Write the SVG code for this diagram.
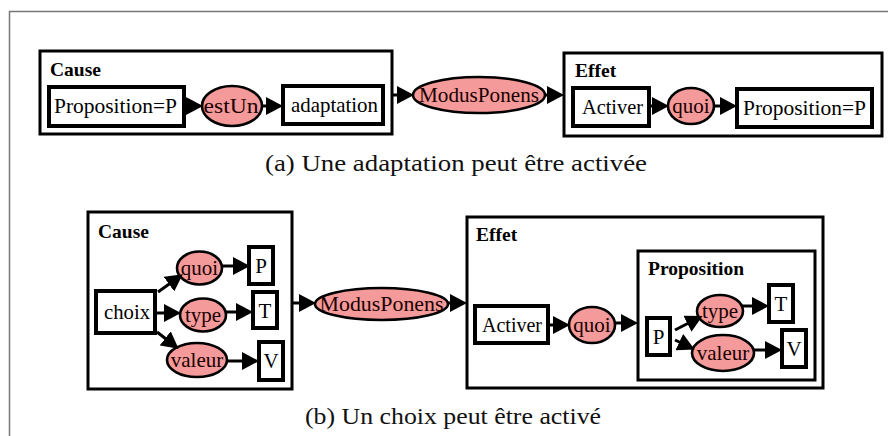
<svg xmlns="http://www.w3.org/2000/svg" width="888" height="436" viewBox="0 0 888 436">
<defs>
<marker id="ah" markerUnits="userSpaceOnUse" markerWidth="17" markerHeight="18" viewBox="0 0 17 18" refX="8" refY="9" orient="auto">
<path d="M0,0 L17,9 L0,18 z" fill="#000"/>
</marker>
<style>
.frame{fill:none;stroke:#777;stroke-width:1.5}
.cont{fill:#fff;stroke:#000;stroke-width:3}
.box{fill:#fff;stroke:#000;stroke-width:4}
.ell{fill:#f49a9a;stroke:#000;stroke-width:2.6}
.lbl{font-family:"Liberation Serif","Times New Roman",serif;font-size:21px;fill:#000}
.elbl{font-family:"Liberation Serif","Times New Roman",serif;font-size:21px;fill:#1a0000;text-anchor:middle}
.ttl{font-family:"Liberation Serif","Times New Roman",serif;font-size:19.5px;font-weight:bold;fill:#000}
.cap{font-family:"Liberation Serif","Palatino Linotype",serif;font-size:24px;fill:#111}
.arr line{stroke:#000;stroke-width:3;marker-end:url(#ah)}
</style>
</defs>
<rect width="888" height="436" fill="#fff"/>
<path class="frame" d="M9.5,436 V11.5 H888"/>

<!-- (a) -->
<g id="a-cause">
<rect class="cont" x="40" y="51" width="352" height="83"/>
<text class="ttl" x="50" y="76">Cause</text>
</g>
<g id="a-prop1"><rect class="box" x="49" y="87" width="135" height="39"/><text class="lbl" x="54" y="113" textLength="123" lengthAdjust="spacingAndGlyphs">Proposition=P</text></g>
<g id="a-estUn"><ellipse class="ell" cx="232" cy="106" rx="30" ry="20"/><text class="elbl" x="231" y="113" textLength="55" lengthAdjust="spacingAndGlyphs">estUn</text></g>
<g id="a-adapt"><rect class="box" x="283" y="86" width="100" height="38"/><text class="lbl" x="291" y="112" textLength="87" lengthAdjust="spacingAndGlyphs">adaptation</text></g>
<g id="a-modus"><ellipse class="ell" cx="479" cy="95" rx="66" ry="18"/><text class="elbl" x="479" y="102" textLength="120" lengthAdjust="spacingAndGlyphs">ModusPonens</text></g>
<g id="a-effet">
<rect class="cont" x="564" y="53" width="318" height="83"/>
<text class="ttl" x="575" y="77">Effet</text>
</g>
<g id="a-activer"><rect class="box" x="573" y="88" width="76" height="38"/><text class="lbl" x="582" y="114" textLength="61" lengthAdjust="spacingAndGlyphs">Activer</text></g>
<g id="a-quoi"><ellipse class="ell" cx="691" cy="106" rx="23" ry="18"/><text class="elbl" x="691" y="113">quoi</text></g>
<g id="a-prop2"><rect class="box" x="737" y="89" width="135" height="38"/><text class="lbl" x="743" y="115" textLength="123" lengthAdjust="spacingAndGlyphs">Proposition=P</text></g>
<text class="cap" x="265" y="171" textLength="382" lengthAdjust="spacingAndGlyphs">(a) Une adaptation peut être activée</text>

<!-- (b) -->
<g id="b-cause">
<rect class="cont" x="88" y="212" width="204" height="177"/>
<text class="ttl" x="98" y="238">Cause</text>
</g>
<g id="b-choix"><rect class="box" x="96" y="291" width="59" height="42"/><text class="lbl" x="104" y="319" textLength="46" lengthAdjust="spacingAndGlyphs">choix</text></g>
<g id="b-quoi"><ellipse class="ell" cx="199.5" cy="268" rx="22.5" ry="16.5"/><text class="elbl" x="199.5" y="275">quoi</text></g>
<g id="b-type"><ellipse class="ell" cx="203" cy="315" rx="23" ry="16.5"/><text class="elbl" x="203" y="322">type</text></g>
<g id="b-valeur"><ellipse class="ell" cx="197" cy="360" rx="30" ry="17"/><text class="elbl" x="197" y="367">valeur</text></g>
<g id="b-P"><rect class="box" x="249" y="247" width="24" height="37"/><text class="lbl" x="261" y="273" text-anchor="middle">P</text></g>
<g id="b-T"><rect class="box" x="253" y="292" width="24" height="36"/><text class="lbl" x="265" y="318" text-anchor="middle">T</text></g>
<g id="b-V"><rect class="box" x="259" y="342" width="24" height="38"/><text class="lbl" x="271" y="368" text-anchor="middle">V</text></g>
<g id="b-modus"><ellipse class="ell" cx="381.5" cy="304" rx="66.5" ry="16"/><text class="elbl" x="381.5" y="311" textLength="124" lengthAdjust="spacingAndGlyphs">ModusPonens</text></g>
<g id="b-effet">
<rect class="cont" x="467" y="217" width="356" height="171"/>
<text class="ttl" x="476" y="241">Effet</text>
</g>
<g id="b-activer"><rect class="box" x="475" y="306" width="73" height="37"/><text class="lbl" x="482" y="332" textLength="60" lengthAdjust="spacingAndGlyphs">Activer</text></g>
<g id="b-quoi2"><ellipse class="ell" cx="592" cy="325" rx="23" ry="18"/><text class="elbl" x="592" y="332">quoi</text></g>
<g id="b-prop">
<rect class="cont" x="638" y="251" width="177" height="129"/>
<text class="ttl" x="648" y="275">Proposition</text>
</g>
<g id="b-P2"><rect class="box" x="647" y="318" width="23" height="37"/><text class="lbl" x="658.5" y="344" text-anchor="middle">P</text></g>
<g id="b-type2"><ellipse class="ell" cx="720" cy="311" rx="23" ry="16"/><text class="elbl" x="720" y="318">type</text></g>
<g id="b-valeur2"><ellipse class="ell" cx="723" cy="353" rx="31" ry="18"/><text class="elbl" x="723" y="360">valeur</text></g>
<g id="b-T2"><rect class="box" x="769" y="285" width="24" height="37"/><text class="lbl" x="781" y="311" text-anchor="middle">T</text></g>
<g id="b-V2"><rect class="box" x="782" y="330" width="24" height="37"/><text class="lbl" x="794" y="356" text-anchor="middle">V</text></g>
<text class="cap" x="305" y="424" textLength="296" lengthAdjust="spacingAndGlyphs">(b) Un choix peut être activé</text>

<g id="connectors" class="arr">
<line x1="184" y1="106" x2="194" y2="106"/>
<line x1="262" y1="106" x2="274" y2="106"/>
<line x1="393" y1="95" x2="405" y2="95"/>
<line x1="545" y1="95" x2="555" y2="95"/>
<line x1="650" y1="106" x2="660" y2="106"/>
<line x1="714" y1="106" x2="728" y2="106"/>
<line x1="158" y1="292" x2="175.5" y2="279.5"/>
<line x1="155" y1="313" x2="172" y2="313"/>
<line x1="157" y1="332" x2="171.5" y2="343.3"/>
<line x1="222" y1="266" x2="241" y2="266"/>
<line x1="226" y1="312" x2="244" y2="312"/>
<line x1="227" y1="361" x2="250" y2="361"/>
<line x1="293" y1="303" x2="307" y2="303"/>
<line x1="448" y1="303" x2="458" y2="303"/>
<line x1="548" y1="325" x2="561" y2="325"/>
<line x1="614" y1="323" x2="629" y2="323"/>
<line x1="675" y1="330" x2="694.5" y2="320"/>
<line x1="675" y1="340" x2="686.5" y2="345.5"/>
<line x1="742" y1="306" x2="760" y2="306"/>
<line x1="754" y1="350" x2="773" y2="350"/>
</g>
</svg>
